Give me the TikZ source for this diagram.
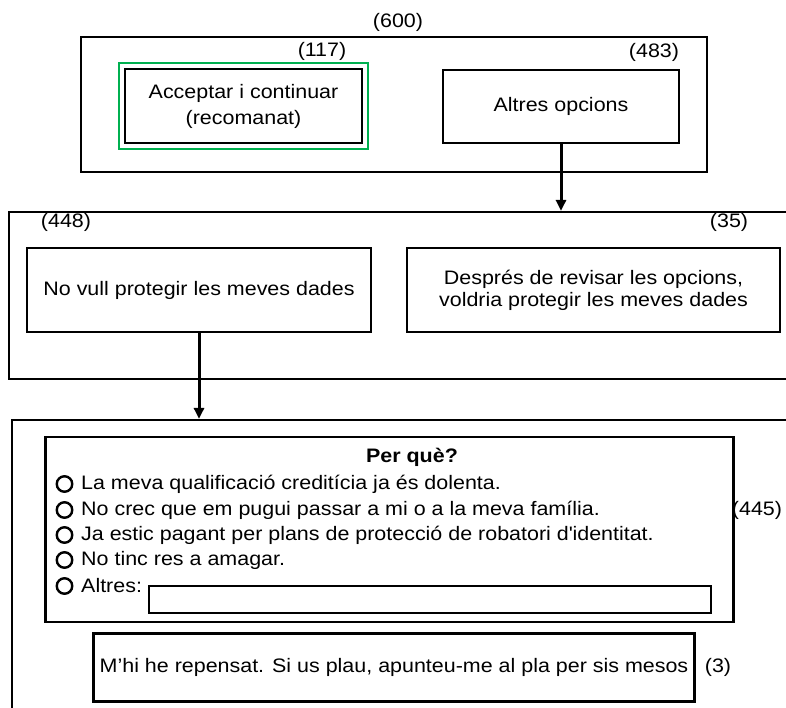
\documentclass[tikz,border=0pt]{standalone}
\usepackage{fontspec}
\setmainfont{Liberation Sans}[FakeStretch=1.1]
\usetikzlibrary{arrows.meta}
\definecolor{okgreen}{RGB}{0,176,80}

\begin{document}
\begin{tikzpicture}[
  x=1pt, y=-1pt,
  every node/.style={font=\fontsize{19.5}{26}\selectfont, inner sep=0pt},
  box/.style={draw, line width=2.2pt, align=center},
  tick/.style={draw, circle, line width=2.4pt, minimum size=15.5pt},
  flow/.style={line width=3pt, -{Triangle[length=11pt,width=10pt]}}
]
\clip (0,0) rectangle (786,708);
\fill[white] (0,0) rectangle (786,708);
\node[box, minimum width=626pt, minimum height=135pt] (topbox) at (394,104.5) {};
\node[box, minimum width=237pt, minimum height=74pt] (accept) at (243.5,106) {Acceptar i continuar\\(recomanat)};
\draw[okgreen, line width=2pt] ([xshift=-4.5pt,yshift=4.5pt]accept.north west) rectangle ([xshift=4.5pt,yshift=-4.5pt]accept.south east);
\node[box, minimum width=236pt, minimum height=73pt] (altres) at (561,106.5) {Altres opcions};
\node (n600) at (398,22) {(600)};
\node (n117) at (322,51) {(117)};
\node (n483) at (654,52) {(483)};
\node[box, minimum width=791pt, minimum height=167pt] (midbox) at (404.5,295.5) {};
\node[box, minimum width=344pt, minimum height=84pt] (novull) at (199,290) {No vull protegir les meves dades};
\node[box, minimum width=373pt, minimum height=84pt, font=\fontsize{19.5}{22}\selectfont] (despres) at (593.5,290) {Després de revisar les opcions,\\voldria protegir les meves dades};
\node (n448) at (66,222) {(448)};
\node (n35) at (729,222) {(35)};
\node[box, minimum width=788pt, minimum height=300pt] (lowbox) at (406,570) {};
\node[box, minimum width=688pt, minimum height=185pt] (perque) at (389.5,529.5) {};
\node[font=\fontsize{19.5}{26}\selectfont\bfseries] (title) at (412,457) {Per què?};
\node[tick] (c1) at (64.5,484) {};
\node[anchor=west] (o1) at (81,484) {La meva qualificació creditícia ja és dolenta.};
\node[tick] (c2) at (64.5,510) {};
\node[anchor=west] (o2) at (81,510) {No crec que em pugui passar a mi o a la meva família.};
\node[tick] (c3) at (64.5,535) {};
\node[anchor=west] (o3) at (81,535) {Ja estic pagant per plans de protecció de robatori d\textquotesingle identitat.};
\node[tick] (c4) at (64.5,560) {};
\node[anchor=west] (o4) at (81,560) {No tinc res a amagar.};
\node[tick] (c5) at (64.5,586) {};
\node[anchor=west] (o5) at (81,586) {Altres:};
\node[box, minimum width=562pt, minimum height=27pt] (field) at (430,599.5) {};
\node (n445) at (757,510) {(445)};
\node[box, minimum width=601pt, minimum height=68pt] (repensat) at (394,667.5) {M’hi he repensat. Si us plau, apunteu-me al pla per sis mesos};
\node (n3) at (718,667) {(3)};
\draw[flow] (altres.south) -- (altres.south |- midbox.north);
\draw[flow] (novull.south) -- (novull.south |- lowbox.north);
\end{tikzpicture}
\end{document}
